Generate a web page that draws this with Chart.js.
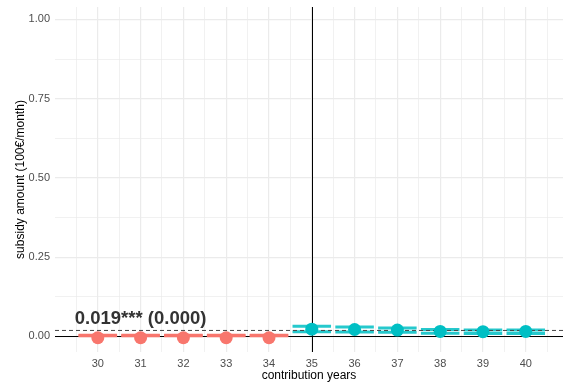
<!DOCTYPE html>
<html>
<head>
<meta charset="utf-8">
<script src="https://cdn.jsdelivr.net/npm/chart.js@4/dist/chart.umd.min.js"></script>
<style>html,body{margin:0;padding:0;background:#fff}canvas{display:block}</style>
</head>
<body>
<canvas id="c" width="563" height="385"></canvas>
<script>
// contribution years and the threshold year
const years = [30, 31, 32, 33, 34, 35, 36, 37, 38, 39, 40];
const threshold = 35;

// estimates before the threshold
const belowYears = [30, 31, 32, 33, 34];
const belowEst = [-0.004, -0.004, -0.004, -0.004, -0.004];
const belowLo = [0.002, 0.002, 0.002, 0.002, 0.002];
const belowHi = [0.004, 0.004, 0.004, 0.004, 0.004];

// estimates from the threshold on
const aboveYears = [35, 36, 37, 38, 39, 40];
const aboveEst = [0.023, 0.022, 0.020, 0.016, 0.015, 0.016];
const aboveLo = [0.015, 0.014, 0.013, 0.010, 0.009, 0.009];
const aboveHi = [0.032, 0.030, 0.027, 0.022, 0.020, 0.020];

// pooled effect
const pooledEst = 0.019;
const pooledLabel = '0.019*** (0.000)';
const labelYear = 31;
const labelY = 0.055;

// axis ticks
const yTickValues = [0, 0.25, 0.5, 0.75, 1];
const yTickLabels = ['0.00', '0.25', '0.50', '0.75', '1.00'];
const xTickLabels = years.map(String);

const X_MIN = 29.0, X_MAX = 40.87, Y_MIN = -0.049, Y_MAX = 1.039;
const RED = '#F8766D', CYAN = '#00BFC4';
const FONT = '"Liberation Sans", Arial, Helvetica, sans-serif';

// horizontal segments spanning +-0.45 around each year
function segments(xs, ys) {
  const out = [];
  xs.forEach((x, i) => {
    out.push({x: x - 0.45, y: ys[i]}, {x: x + 0.45, y: ys[i]}, {x: x + 0.46, y: null});
  });
  return out;
}
function pts(xs, ys) { return xs.map((x, i) => ({x, y: ys[i]})); }

// grid positions: majors at the ticks, minors halfway between
const yGrid = [];
for (let i = 0; i < yTickValues.length; i++) {
  yGrid.push(yTickValues[i]);
  if (i < yTickValues.length - 1) yGrid.push((yTickValues[i] + yTickValues[i + 1]) / 2);
}
const xGrid = [years[0] - 0.5];
years.forEach(y => { xGrid.push(y, y + 0.5); });

// scales take exactly the room given to them, with no extra label padding
function noPadding(sc) { sc.paddingLeft = 0; sc.paddingRight = 0; sc.paddingTop = 0; sc.paddingBottom = 0; }

const refLines = {
  id: 'refLines',
  beforeDatasetsDraw(chart) {
    const {ctx, chartArea: a, scales: {x, y}} = chart;
    ctx.save();
    ctx.strokeStyle = '#000';
    ctx.lineWidth = 1;
    const y0 = Math.round(y.getPixelForValue(0)) + 0.5;
    ctx.beginPath(); ctx.moveTo(a.left, y0); ctx.lineTo(a.right, y0); ctx.stroke();
    const xv = Math.round(x.getPixelForValue(threshold)) + 0.5;
    ctx.beginPath(); ctx.moveTo(xv, a.top); ctx.lineTo(xv, a.bottom); ctx.stroke();
    ctx.restore();
  },
  afterDatasetsDraw(chart) {
    const {ctx, scales: {x, y}} = chart;
    ctx.save();
    ctx.font = 'bold 18.5px ' + FONT;
    ctx.fillStyle = '#333333';
    ctx.textAlign = 'center';
    ctx.textBaseline = 'middle';
    ctx.fillText(pooledLabel, x.getPixelForValue(labelYear), y.getPixelForValue(labelY));
    ctx.restore();
  }
};

const barStyle = (c) => ({
  type: 'line', showLine: true, spanGaps: false, pointRadius: 0, pointHoverRadius: 0,
  borderColor: c, borderWidth: 3, borderCapStyle: 'butt', fill: false, tension: 0
});

new Chart(document.getElementById('c'), {
  type: 'scatter',
  data: {
    datasets: [
      {data: pts(belowYears, belowEst), backgroundColor: RED, borderColor: RED, pointRadius: 6.5, pointBorderWidth: 0},
      {data: pts(aboveYears, aboveEst), backgroundColor: CYAN, borderColor: CYAN, pointRadius: 6.5, pointBorderWidth: 0},
      {type: 'line', data: [{x: X_MIN, y: pooledEst}, {x: X_MAX, y: pooledEst}], borderColor: '#444444',
       borderWidth: 1, borderDash: [4, 3], pointRadius: 0, fill: false},
      Object.assign({data: segments(belowYears, belowHi)}, barStyle(RED)),
      Object.assign({data: segments(belowYears, belowLo)}, barStyle(RED)),
      Object.assign({data: segments(aboveYears, aboveHi)}, barStyle('rgba(0,191,196,0.85)')),
      Object.assign({data: segments(aboveYears, aboveLo)}, barStyle('rgba(0,191,196,0.85)'))
    ]
  },
  options: {
    responsive: false,
    devicePixelRatio: 1,
    animation: false,
    layout: {autoPadding: false, padding: {top: 7, right: 0, bottom: 0, left: 0}},
    plugins: {legend: {display: false}, tooltip: {enabled: false}},
    scales: {
      x: {
        type: 'linear', min: X_MIN, max: X_MAX,
        afterBuildTicks: sc => { sc.ticks = xGrid.map(v => ({value: v})); },
        afterFit: sc => { sc.height = 33; noPadding(sc); },
        border: {display: false},
        grid: {
          color: '#EBEBEB', drawTicks: false,
          lineWidth: c => Number.isInteger(c.tick.value) ? 1.2 : 0.7
        },
        ticks: {
          autoSkip: false, maxRotation: 0, padding: 5, color: '#4D4D4D',
          font: {family: FONT, size: 11},
          callback: v => { const i = years.indexOf(v); return i >= 0 ? xTickLabels[i] : ''; }
        },
        title: {display: true, text: 'contribution years', color: '#000', font: {family: FONT, size: 12}, padding: {top: 0, bottom: 2}}
      },
      y: {
        type: 'linear', min: Y_MIN, max: Y_MAX,
        afterBuildTicks: sc => { sc.ticks = yGrid.map(v => ({value: v})); },
        afterFit: sc => { sc.width = 55; noPadding(sc); },
        border: {display: false},
        grid: {
          color: '#EBEBEB', drawTicks: false,
          lineWidth: c => yTickValues.includes(c.tick.value) ? 1.2 : 0.7
        },
        ticks: {
          autoSkip: false, padding: 5, color: '#4D4D4D',
          font: {family: FONT, size: 11},
          callback: v => { const i = yTickValues.indexOf(v); return i >= 0 ? yTickLabels[i] : ''; }
        },
        title: {display: true, text: 'subsidy amount (100€/month)', color: '#000', font: {family: FONT, size: 12}, padding: {top: 13, bottom: 0}}
      }
    }
  },
  plugins: [refLines]
});
</script>
</body>
</html>
